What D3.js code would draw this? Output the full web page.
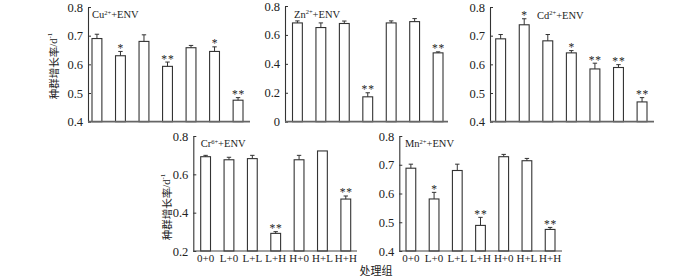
<!DOCTYPE html>
<html><head><meta charset="utf-8">
<script src="https://cdn.jsdelivr.net/npm/d3@7"></script>
<style>
body{margin:0;background:#fff;}
svg{display:block;}
text{font-family:"Liberation Serif","Noto Sans CJK SC",serif;fill:#222;}
</style></head>
<body><svg id="c" width="700" height="277"></svg>
<script>
const groups = ["0+0","L+0","L+L","L+H","H+0","H+L","H+H"];

const cuValues = [0.69, 0.63, 0.68, 0.593, 0.658, 0.645, 0.475];
const cuErrors = [0.015, 0.015, 0.023, 0.015, 0.008, 0.016, 0.009];
const cuSig    = ["", "*", "", "**", "", "*", "**"];

const znValues = [0.683, 0.651, 0.679, 0.172, 0.683, 0.692, 0.476];
const znErrors = [0.014, 0.032, 0.017, 0.028, 0.014, 0.021, 0.007];
const znSig    = ["", "", "", "**", "", "", "**"];

const cdValues = [0.689, 0.738, 0.682, 0.64, 0.584, 0.589, 0.469];
const cdErrors = [0.015, 0.021, 0.022, 0.008, 0.02, 0.01, 0.015];
const cdSig    = ["", "*", "", "*", "**", "**", "**"];

const crValues = [0.692, 0.676, 0.682, 0.292, 0.676, 0.722, 0.471];
const crErrors = [0.007, 0.013, 0.017, 0.009, 0.023, 0, 0.016];
const crSig    = ["", "", "", "**", "", "", "**"];

const mnValues = [0.688, 0.581, 0.68, 0.489, 0.728, 0.714, 0.475];
const mnErrors = [0.014, 0.023, 0.022, 0.028, 0.008, 0.008, 0.007];
const mnSig    = ["", "*", "", "**", "", "", "**"];

const cuTicks = [0.4, 0.5, 0.6, 0.7, 0.8];
const znTicks = [0, 0.2, 0.4, 0.6, 0.8];
const cdTicks = [0.4, 0.5, 0.6, 0.7, 0.8];
const crTicks = [0.2, 0.4, 0.6, 0.8];
const mnTicks = [0.4, 0.5, 0.6, 0.7, 0.8];

const yLabel = "种群增长率/d";
const xLabel = "处理组";

const svg = d3.select("#c");

const panels = [
  {el:"Cu", sup:"2+", values:cuValues, errors:cuErrors, sig:cuSig, ticks:cuTicks,
   ax:88, axEnd:250, b0:92, b1:243, top:7, bottom:121.7, titleX:92, titleY:18, ylab:[53,66], xlabels:false, heavyBase:true},
  {el:"Zn", sup:"2+", values:znValues, errors:znErrors, sig:znSig, ticks:znTicks,
   ax:285, axEnd:448, b0:292.5, b1:443, top:6, bottom:121.7, titleX:294, titleY:17.5, ylab:null, xlabels:false, heavyBase:true},
  {el:"Cd", sup:"2+", values:cdValues, errors:cdErrors, sig:cdSig, ticks:cdTicks,
   ax:490, axEnd:654, b0:495.7, b1:647, top:7, bottom:121.7, titleX:537, titleY:18.5, ylab:null, xlabels:false, heavyBase:true},
  {el:"Cr", sup:"6+", values:crValues, errors:crErrors, sig:crSig, ticks:crTicks,
   ax:193.3, axEnd:357, b0:200.7, b1:350.7, top:136, bottom:251, titleX:200.7, titleY:147, ylab:[166,207], xlabels:true, heavyBase:false},
  {el:"Mn", sup:"2+", values:mnValues, errors:mnErrors, sig:mnSig, ticks:mnTicks,
   ax:399.3, axEnd:562, b0:406, b1:555, top:136, bottom:251, titleX:405, titleY:147, ylab:null, xlabels:true, heavyBase:false}
];

panels.forEach(p => {
  const g = svg.append("g");
  const dom = [p.ticks[0], p.ticks[p.ticks.length-1]];
  const y = d3.scaleLinear().domain(dom).range([p.bottom, p.top]);
  const x = d3.scaleBand().domain(groups).range([p.b0, p.b1]).paddingInner(0.58).paddingOuter(0);

  const yAxis = d3.axisLeft(y).tickValues(p.ticks).tickSizeInner(-3).tickSizeOuter(0).tickPadding(5)
    .tickFormat(d => d === 0 ? "0" : d3.format(".1f")(d));
  const ya = g.append("g").attr("transform", `translate(${p.ax},0)`).call(yAxis);
  ya.select(".domain").attr("stroke", "#333").attr("stroke-width", 1.1);
  ya.selectAll(".tick line").attr("stroke", "#333");
  ya.selectAll(".tick text").style("font-size", "12.5px").attr("fill", "#222")
    .style("font-family", '"Liberation Serif",serif');

  const data = groups.map((k,i) => ({k, v:p.values[i], e:p.errors[i], s:p.sig[i]}));
  g.selectAll("rect.bar").data(data).join("rect")
    .attr("x", d => x(d.k)).attr("width", x.bandwidth())
    .attr("y", d => y(d.v)).attr("height", d => p.bottom - y(d.v))
    .attr("fill", "#fff").attr("stroke", "#333").attr("stroke-width", 1.1);

  const eb = g.selectAll("g.err").data(data.filter(d => d.e > 0)).join("g");
  eb.append("line")
    .attr("x1", d => x(d.k) + x.bandwidth()/2).attr("x2", d => x(d.k) + x.bandwidth()/2)
    .attr("y1", d => y(d.v)).attr("y2", d => y(d.v + d.e))
    .attr("stroke", "#333").attr("stroke-width", 1);
  eb.append("line")
    .attr("x1", d => x(d.k) + x.bandwidth()/2 - 2.2).attr("x2", d => x(d.k) + x.bandwidth()/2 + 2.2)
    .attr("y1", d => y(d.v + d.e)).attr("y2", d => y(d.v + d.e))
    .attr("stroke", "#333").attr("stroke-width", 1);

  g.selectAll("text.sig").data(data.filter(d => d.s)).join("text")
    .attr("x", d => x(d.k) + x.bandwidth()/2 + 0.4)
    .attr("y", d => y(d.v + d.e) + 0.5)
    .attr("text-anchor", "middle").style("font-size", "11.5px").style("letter-spacing", "0.8px")
    .attr("fill", "#444").text(d => d.s);

  g.append("line").attr("x1", p.ax).attr("x2", p.axEnd).attr("y1", p.bottom).attr("y2", p.bottom)
    .attr("stroke", p.heavyBase ? "#666" : "#444").attr("stroke-width", p.heavyBase ? 1.8 : 1.2);

  if (p.xlabels) {
    g.selectAll("text.xl").data(groups).join("text")
      .attr("x", d => x(d) + x.bandwidth()/2).attr("y", p.bottom + 10.5)
      .attr("text-anchor", "middle").style("font-size", "11px").text(d => d);
  }

  const t = g.append("text").attr("x", p.titleX).attr("y", p.titleY).style("font-size", "10.5px");
  t.append("tspan").text(p.el);
  t.append("tspan").attr("dy", -3.5).style("font-size", "6.5px").text(p.sup);
  t.append("tspan").attr("dy", 3.5).text("+ENV");

  if (p.ylab) {
    const yl = g.append("text").attr("transform", `translate(${p.ylab[0]},${p.ylab[1]}) rotate(-90)`)
      .attr("text-anchor", "middle").attr("dominant-baseline", "central").style("font-size", "10.5px");
    yl.append("tspan").style("font-family", '"Noto Sans CJK SC",sans-serif').text(yLabel.slice(0,5));
    yl.append("tspan").text(yLabel.slice(5));
    yl.append("tspan").attr("dy", -3.5).style("font-size", "7px").text("-1");
  }
});

svg.append("text").attr("x", 376).attr("y", 274.5).attr("text-anchor", "middle")
  .style("font-size", "11px").style("font-family", '"Noto Sans CJK SC",sans-serif').text(xLabel);
</script></body></html>
